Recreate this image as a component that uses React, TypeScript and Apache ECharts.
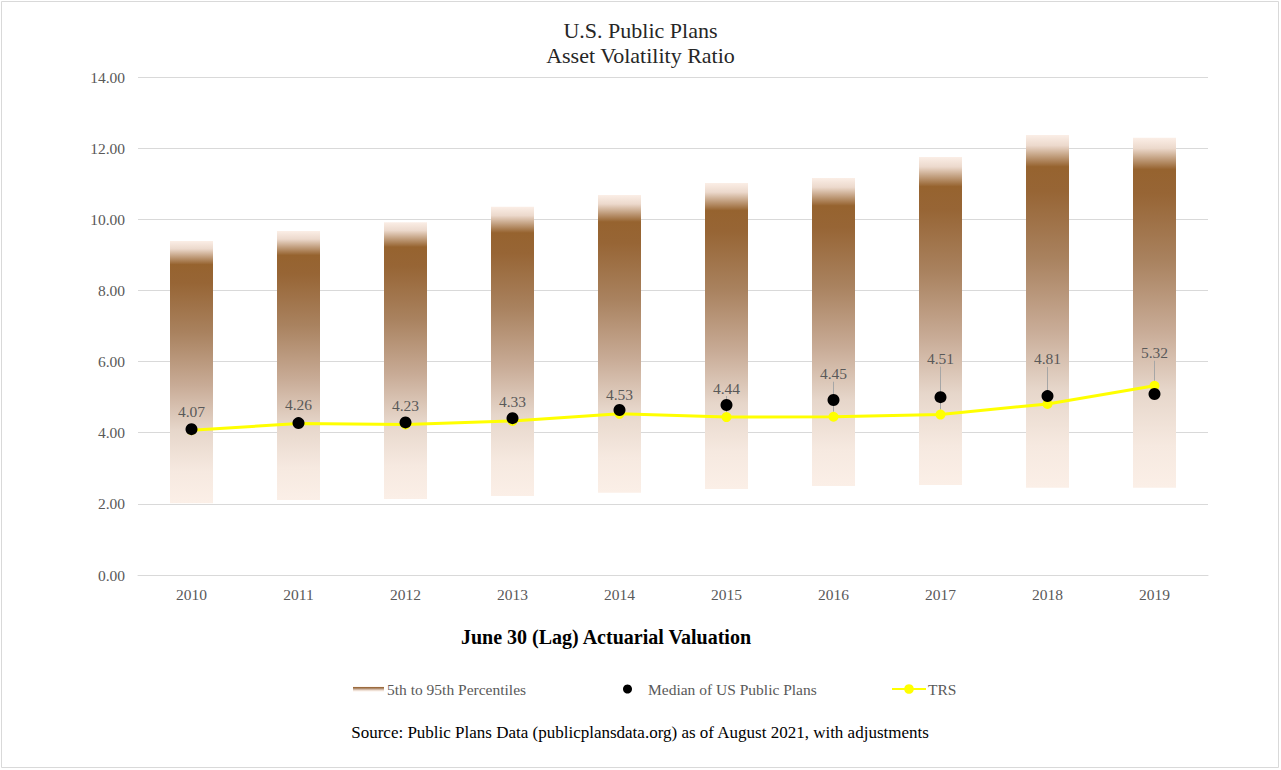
import React, { useEffect, useRef } from "react";
import * as echarts from "echarts";

const years = ["2010", "2011", "2012", "2013", "2014", "2015", "2016", "2017", "2018", "2019"];
const p5 = [2.02, 2.11, 2.14, 2.22, 2.31, 2.42, 2.5, 2.53, 2.45, 2.45];
const p95 = [9.39, 9.67, 9.92, 10.35, 10.68, 11.02, 11.16, 11.75, 12.37, 12.29];
const median = [4.1, 4.27, 4.29, 4.41, 4.64, 4.78, 4.92, 5.0, 5.03, 5.09];
const trs = [4.07, 4.26, 4.23, 4.33, 4.53, 4.44, 4.45, 4.51, 4.81, 5.32];
const yTicks = [0, 2, 4, 6, 8, 10, 12, 14];

const labelDy = [0, 0, 0, 0, 0, -10, -24, -37, -26, -14];

const FONT = "'Liberation Serif', 'DejaVu Serif', serif";

export default function App() {
  const ref = useRef<HTMLDivElement>(null);
  useEffect(() => {
    document.body.style.margin = "0";
    const chart = echarts.init(ref.current!, null, { renderer: "svg" });
    const grad = new echarts.graphic.LinearGradient(0, 0, 0, 1, [
      { offset: 0, color: "#fbeee6" },
      { offset: 0.03, color: "#ecd9cc" },
      { offset: 0.09, color: "#96632f" },
      { offset: 0.16, color: "#976535" },
      { offset: 0.35, color: "#a9825f" },
      { offset: 0.55, color: "#c8ab96" },
      { offset: 0.72, color: "#e6d6ca" },
      { offset: 0.88, color: "#f6e9e0" },
      { offset: 1, color: "#fbefe7" },
    ]);
    const legendText = { fontFamily: FONT, fontSize: 15.5, color: "#595959" };
    chart.setOption({
      animation: false,
      backgroundColor: "#ffffff",
      textStyle: { fontFamily: FONT },
      title: {
        text: "U.S. Public Plans\nAsset Volatility Ratio",
        left: "center",
        top: 13,
        textStyle: { fontFamily: FONT, fontSize: 22, lineHeight: 25, fontWeight: "normal", color: "#262626" },
      },
      legend: [
        {
          data: ["5th to 95th Percentiles"],
          left: 353, top: 681, padding: 0,
          icon: "rect", itemWidth: 31, itemHeight: 5, itemGap: 4,
          textStyle: { ...legendText, padding: [0, 0, 0, -2] },
        },
        {
          data: ["Median of US Public Plans"],
          left: 623, top: 681, padding: 0,
          icon: "circle", itemWidth: 9, itemHeight: 9,
          textStyle: { ...legendText, padding: [0, 0, 0, 11] },
        },
        {
          data: ["TRS"],
          left: 891, top: 681, padding: 0,
          itemWidth: 34, itemHeight: 12,
          textStyle: { ...legendText, padding: [0, 0, 0, -3] },
        },
      ],
      grid: { left: 138, right: 73, top: 77, bottom: 195 },
      xAxis: {
        type: "category",
        data: years,
        axisLine: { lineStyle: { color: "#d9d9d9", width: 1 } },
        axisTick: { show: false },
        axisLabel: { color: "#595959", fontSize: 15.5, fontFamily: FONT, margin: 11 },
      },
      yAxis: {
        type: "value",
        min: yTicks[0],
        max: yTicks[yTicks.length - 1],
        interval: 2,
        axisLine: { show: false },
        axisTick: { show: false },
        axisLabel: { color: "#595959", fontSize: 15.5, fontFamily: FONT, margin: 13, formatter: (v: number) => v.toFixed(2) },
        splitLine: { lineStyle: { color: "#d9d9d9", width: 1 } },
      },
      graphic: [
        {
          type: "rect",
          shape: { x: 1.5, y: 1.5, width: 1277, height: 766 },
          style: { fill: "none", stroke: "#d9d9d9", lineWidth: 1 },
          silent: true,
        },
        {
          type: "text",
          left: 461,
          top: 627,
          style: { text: "June 30 (Lag) Actuarial Valuation", font: `bold 20px ${FONT}`, fill: "#000000" },
        },
        {
          type: "text",
          left: "center",
          top: 724,
          style: { text: "Source: Public Plans Data (publicplansdata.org) as of August 2021, with adjustments", font: `17px ${FONT}`, fill: "#000000" },
        },
      ],
      series: [
        {
          name: "base",
          type: "bar",
          stack: "band",
          data: p5,
          barWidth: 43,
          itemStyle: { color: "transparent" },
          silent: true,
        },
        {
          name: "5th to 95th Percentiles",
          type: "bar",
          stack: "band",
          data: p95.map((v, i) => +(v - p5[i]).toFixed(2)),
          barWidth: 43,
          itemStyle: { color: grad },
        },
        {
          name: "TRS",
          type: "line",
          data: trs.map((v, i) => ({ value: v, labelLine: { show: labelDy[i] !== 0 } })),
          symbol: "circle",
          symbolSize: 10,
          lineStyle: { color: "#ffff00", width: 3 },
          itemStyle: { color: "#ffff00" },
          z: 3,
          label: {
            show: true,
            position: "top",
            distance: 6,
            color: "#595959",
            fontSize: 15.5,
            fontFamily: FONT,
            formatter: (p: any) => Number(p.value).toFixed(2),
          },
          labelLine: { show: true, lineStyle: { color: "#a6a6a6", width: 1 } },
          labelLayout: (params: any) => ({ dy: labelDy[params.dataIndex] }),
        },
        {
          name: "Median of US Public Plans",
          type: "scatter",
          data: median,
          symbol: "circle",
          symbolSize: 12,
          itemStyle: { color: "#000000", opacity: 1 },
          z: 4,
        },
      ],
    });
    return () => chart.dispose();
  }, []);
  return <div ref={ref} style={{ width: 1281, height: 770 }} />;
}
